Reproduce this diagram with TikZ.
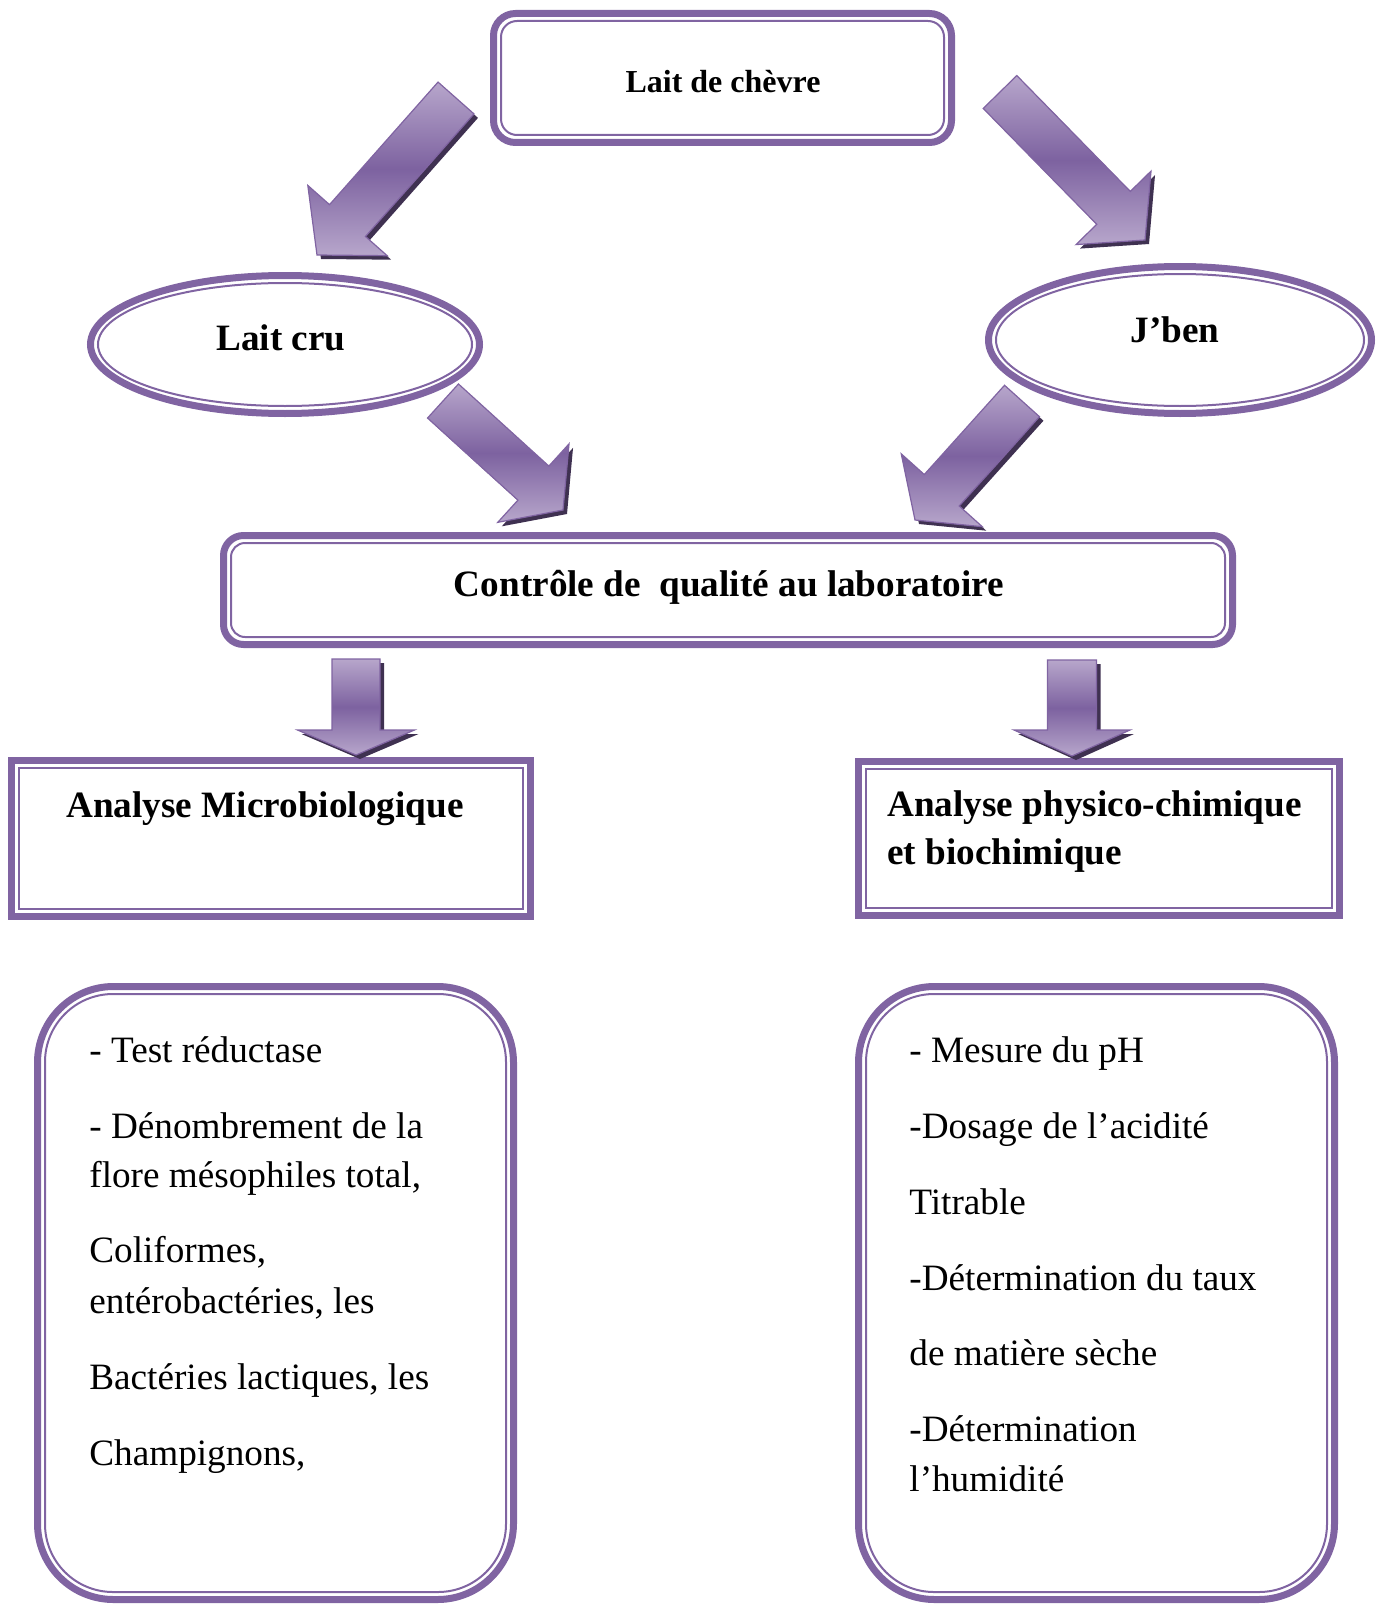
\documentclass[tikz,border=0pt]{standalone}
\usepackage{fontspec}
\setmainfont{Liberation Serif}
\usetikzlibrary{shapes.geometric,calc}
\definecolor{pbord}{HTML}{8064A2}
\definecolor{plight}{HTML}{B7A6CB}
\definecolor{pdark}{HTML}{7D62A0}
\definecolor{pshadow}{HTML}{3F3151}
\newcommand\fbig{\fontsize{18.6}{22}\selectfont}
\newcommand\blockarrow[8]{%
 \pgfmathsetmacro\bdx{#4-#2}\pgfmathsetmacro\bdy{#5-#3}%
 \pgfmathsetmacro\bL{veclen(\bdx,\bdy)}%
 \pgfmathsetmacro\bux{\bdx/\bL}\pgfmathsetmacro\buy{\bdy/\bL}%
 \pgfmathsetmacro\bnx{-\buy}\pgfmathsetmacro\bny{\bux}%
 \pgfmathsetmacro\bBx{#4-#8*\bux}\pgfmathsetmacro\bBy{#5-#8*\buy}%
 \pgfmathsetmacro\bsa{#6/2}\pgfmathsetmacro\bha{#7/2}%
 \coordinate (#1-tail) at (#2,#3);
 \coordinate (#1-tip) at (#4,#5);
 \coordinate (#1-a1) at ({#2+\bsa*\bnx},{#3+\bsa*\bny});
 \coordinate (#1-a2) at ({\bBx+\bsa*\bnx},{\bBy+\bsa*\bny});
 \coordinate (#1-a3) at ({\bBx+\bha*\bnx},{\bBy+\bha*\bny});
 \coordinate (#1-a5) at ({\bBx-\bha*\bnx},{\bBy-\bha*\bny});
 \coordinate (#1-a6) at ({\bBx-\bsa*\bnx},{\bBy-\bsa*\bny});
 \coordinate (#1-a7) at ({#2-\bsa*\bnx},{#3-\bsa*\bny});
 \path[arrshadow] ([shift={(2pt,-2pt)}]#1-a1) -- ([shift={(2pt,-2pt)}]#1-a2) -- ([shift={(2pt,-2pt)}]#1-a3) -- ([shift={(2pt,-2pt)}]#1-tip) -- ([shift={(2pt,-2pt)}]#1-a5) -- ([shift={(2pt,-2pt)}]#1-a6) -- ([shift={(2pt,-2pt)}]#1-a7) -- cycle;
 \path[arrbody] (#1-a1) -- (#1-a2) -- (#1-a3) -- (#1-tip) -- (#1-a5) -- (#1-a6) -- (#1-a7) -- cycle;
}
\begin{document}
\begin{tikzpicture}[x=0.5pt,y=-0.5pt,
  rbox/.style={rectangle, draw=pbord, line width=3.5pt, outer sep=0pt, inner sep=0pt},
  ebox/.style={ellipse, draw=pbord, line width=3.5pt, outer sep=0pt, inner sep=0pt},
  thinb/.style={draw=pbord, line width=1pt},
  arrshadow/.style={fill=pshadow},
  arrbody/.style={draw=pbord, line width=0.6pt, top color=plight, bottom color=plight, middle color=pdark},
  txt/.style={anchor=base west, inner sep=0pt, font=\fbig},
  btxt/.style={anchor=base west, inner sep=0pt, font=\fbig\bfseries},
  ctxt/.style={anchor=center, inner sep=0pt, font=\fbig\bfseries}]
\useasboundingbox (0,0) rectangle (1380,1605);

% top box
\node[rbox, rounded corners=11pt, minimum width=229pt, minimum height=64.5pt] (chevre) at (722.5,78) {};
\draw[thinb, rounded corners=8pt] ([shift={(3.75pt,3.75pt)}]chevre.south west) rectangle ([shift={(-3.75pt,-3.75pt)}]chevre.north east);
\node[ctxt, font=\bfseries\fontsize{16}{19}\selectfont] (chevret) at (723,82) {Lait de chèvre};

% ellipses
\node[ebox, minimum width=194.5pt, minimum height=69pt] (cru) at (285,344.5) {};
\draw[thinb] (cru.center) ellipse [x radius=93.5pt, y radius=30.75pt];
\node[ctxt] (crut) at (281,338) {Lait cru};
\node[ebox, minimum width=191.5pt, minimum height=73.5pt] (jben) at (1180,340) {};
\draw[thinb] (jben.center) ellipse [x radius=92pt, y radius=33pt];
\node[ctxt] (jbent) at (1175,330) {J’ben};

% control box
\node[rbox, rounded corners=10pt, minimum width=504.5pt, minimum height=54.5pt] (ctrl) at (728,590) {};
\draw[thinb, rounded corners=7pt] ([shift={(3.75pt,3.75pt)}]ctrl.south west) rectangle ([shift={(-3.75pt,-3.75pt)}]ctrl.north east);
\node[ctxt] (ctrlt) at (729,587.5) {Contrôle de~ qualité au laboratoire};

% analysis boxes
\node[rbox, minimum width=259.5pt, minimum height=78pt] (micro) at (271,838.5) {};
\draw[thinb] ([shift={(3.75pt,3.75pt)}]micro.south west) rectangle ([shift={(-3.75pt,-3.75pt)}]micro.north east);
\node[btxt] (microt) at (66,817) {Analyse Microbiologique};

\node[rbox, minimum width=240.5pt, minimum height=77pt] (phys) at (1099,838.5) {};
\draw[thinb] ([shift={(3.75pt,3.75pt)}]phys.south west) rectangle ([shift={(-3.75pt,-3.75pt)}]phys.north east);
\node[btxt] (physt1) at (887,816) {Analyse physico-chimique};
\node[btxt] (physt2) at (887,864) {et biochimique};

% bottom boxes
\node[rbox, rounded corners=38pt, minimum width=238pt, minimum height=306.5pt] (listl) at (275.5,1293) {};
\draw[thinb, rounded corners=34pt] ([shift={(3.75pt,3.75pt)}]listl.south west) rectangle ([shift={(-3.75pt,-3.75pt)}]listl.north east);
\node[rbox, rounded corners=38pt, minimum width=238pt, minimum height=306.5pt] (listr) at (1096.5,1293) {};
\draw[thinb, rounded corners=34pt] ([shift={(3.75pt,3.75pt)}]listr.south west) rectangle ([shift={(-3.75pt,-3.75pt)}]listr.north east);

\node[txt] (l1) at (89,1062) {- Test réductase};
\node[txt] (l2) at (89,1138) {- Dénombrement de la};
\node[txt] (l3) at (89,1187) {flore mésophiles total,};
\node[txt] (l4) at (89,1262) {Coliformes,};
\node[txt] (l5) at (89,1313) {entérobactéries, les};
\node[txt] (l6) at (89,1389) {Bactéries lactiques, les};
\node[txt] (l7) at (89,1465) {Champignons,};

\node[txt] (r1) at (909,1062) {- Mesure du pH};
\node[txt] (r2) at (909,1138) {-Dosage de l’acidité};
\node[txt] (r3) at (909,1214) {Titrable};
\node[txt] (r4) at (909,1290) {-Détermination du taux};
\node[txt] (r5) at (909,1365) {de matière sèche};
\node[txt] (r6) at (909,1441) {-Détermination};
\node[txt] (r7) at (909,1491) {l’humidité};

% block arrows
\blockarrow{ar1}{456}{98}{317}{255}{48}{106}{46}
\blockarrow{ar2}{1000}{92}{1145}{240}{47}{105}{45}
\blockarrow{ar3}{443}{401}{563}{510}{46}{106}{40}
\blockarrow{ar4}{1022}{401}{915}{520}{47}{109}{40}
\blockarrow{ar5}{356}{659}{356}{755}{48}{117}{25}
\blockarrow{ar6}{1072}{660}{1072}{756}{49}{116}{26}
\end{tikzpicture}
\end{document}
